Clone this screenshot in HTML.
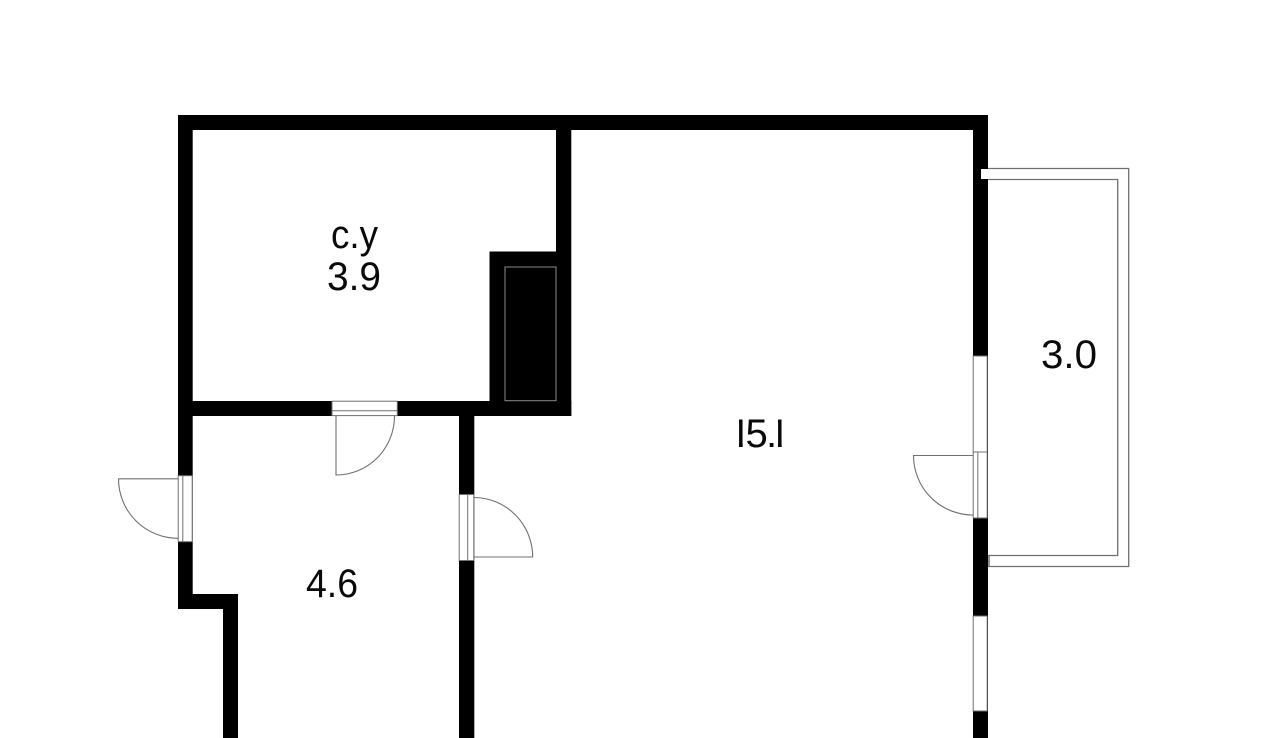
<!DOCTYPE html>
<html lang="ru">
<head>
<meta charset="utf-8">
<title>Floor plan</title>
<style>
html,body{margin:0;padding:0;background:#fff;width:1280px;height:738px;overflow:hidden}
svg{display:block}
text{font-family:"Liberation Sans","DejaVu Sans",sans-serif;font-size:40px;fill:#0a0a0a}
</style>
</head>
<body>
<svg width="1280" height="738" viewBox="0 0 1280 738" xmlns="http://www.w3.org/2000/svg">
<defs>
  <clipPath id="c151">
    <rect x="739" y="417" width="3.7" height="32"/>
    <rect x="745" y="417" width="25" height="27"/>
    <rect x="749.4" y="444" width="20" height="5"/>
    <rect x="769.6" y="443" width="3.9" height="5"/>
    <rect x="778" y="417" width="3.7" height="32"/>
  </clipPath>
</defs>
<rect width="1280" height="738" fill="#fff"/>

<!-- balcony -->
<g fill="none" stroke="#707070" stroke-width="1.3">
  <path d="M981 168.5H1128.7V566.5H988"/>
  <path d="M981 179.5H1117.7V555.5H988"/>
  <path d="M989 555.5V566.5" stroke-width="1.5"/>
</g>

<!-- walls -->
<g fill="#000">
  <rect x="178" y="115" width="810" height="15"/>
  <rect x="178" y="115" width="14.7" height="494"/>
  <rect x="178" y="594" width="60" height="15"/>
  <rect x="223" y="594" width="15" height="144"/>
  <rect x="178" y="401" width="393.3" height="15"/>
  <rect x="556" y="115" width="15.3" height="301"/>
  <rect x="489.5" y="251.5" width="70" height="160"/>
  <rect x="459" y="401" width="15.3" height="337"/>
  <rect x="973" y="115" width="15" height="623"/>
</g>

<!-- shaft outline -->
<rect x="505" y="267" width="51" height="133.7" fill="none" stroke="#8a8a8a" stroke-width="1"/>

<!-- balcony slab end -->
<rect x="981" y="169" width="8" height="10" fill="#fff"/>

<!-- windows -->
<g fill="#fff" stroke="#707070" stroke-width="1">
  <rect x="973.2" y="356" width="14" height="96"/>
  <rect x="973.2" y="616" width="14" height="95"/>
</g>

<!-- doors: openings -->
<g fill="#fff" stroke="#707070" stroke-width="1">
  <rect x="973.2" y="452" width="14" height="66"/>
  <rect x="178.2" y="475.7" width="14" height="66"/>
  <rect x="459.2" y="494.5" width="14.6" height="66"/>
  <rect x="332" y="401.2" width="65.3" height="14.4"/>
</g>
<g fill="none" stroke="#707070" stroke-width="1">
  <path d="M977.8 452V518"/>
  <path d="M182.8 475.7V541.7"/>
  <path d="M467.7 494.5V560.5"/>
  <path d="M332 410.8H397.3"/>
</g>

<!-- door leaves -->
<g fill="none" stroke="#707070" stroke-width="1.1">
  <path d="M973 455.5H913.5A59.5 59.5 0 0 0 973 515"/>
  <path d="M178 478.8H118.5A59.5 59.5 0 0 0 178 538.3"/>
  <path d="M474 497.5A59 59.5 0 0 1 532.7 557H474"/>
  <path d="M336 416V475A58.5 59 0 0 0 394.5 416"/>
</g>

<!-- labels -->
<text x="331" y="248" textLength="47" lengthAdjust="spacingAndGlyphs">с.у</text>
<text x="327" y="290" textLength="54" lengthAdjust="spacingAndGlyphs">3.9</text>
<text x="729 745.5 766 768" y="447" clip-path="url(#c151)">15.1</text>
<text x="1041" y="368" textLength="56" lengthAdjust="spacingAndGlyphs">3.0</text>
<text x="306" y="597" textLength="52" lengthAdjust="spacingAndGlyphs">4.6</text>
</svg>
</body>
</html>
